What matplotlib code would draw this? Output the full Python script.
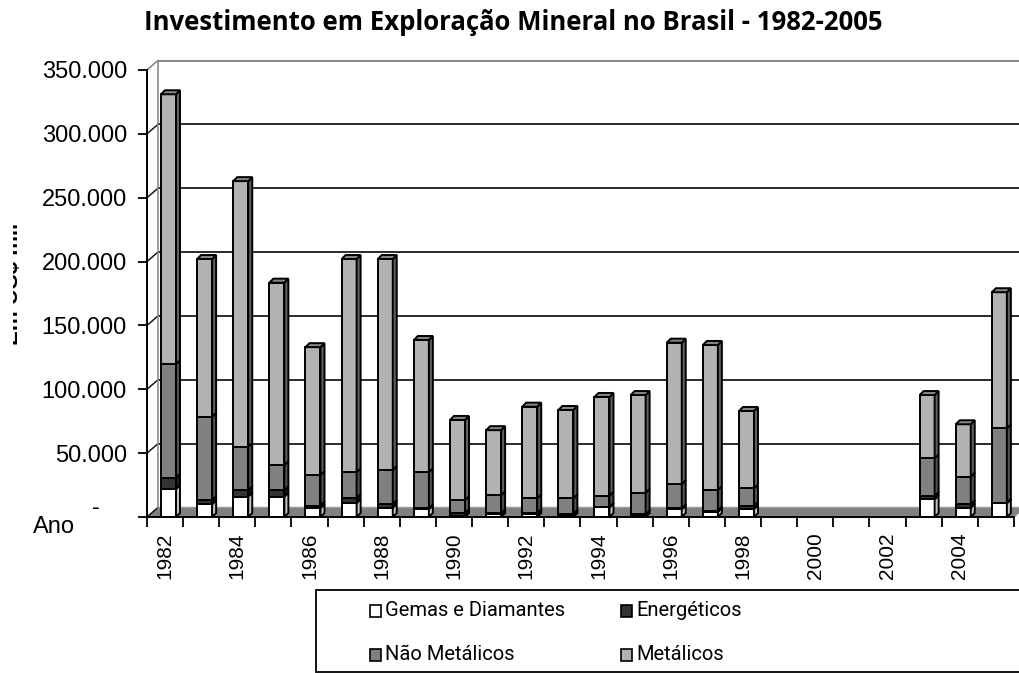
"""
Investimento em exploracao mineral no Brasil, 1982-2005.
Colunas empilhadas com efeito 3D (estilo planilha).
"""
import matplotlib
matplotlib.use("Agg")
import matplotlib.pyplot as plt
from matplotlib.patches import Polygon, Rectangle
from matplotlib.ticker import FixedLocator, FuncFormatter
from matplotlib.transforms import Bbox

# Dados em US$ mil
anos = list(range(1982, 2006))
gemas = [21900, 10000, 16000, 16000, 7000, 11000, 7300, 6000, 1000, 2000,
         2000, 1000, 7500, 500, 6000, 4000, 6200, 0, 0, 0, 0, 13800, 7300, 10700]
energeticos = [8900, 3300, 5000, 5000, 1900, 4000, 2700, 800, 2000, 1000,
               1000, 1500, 500, 1500, 800, 1000, 2700, 0, 0, 0, 0, 2600, 2700, 500]
nao_metalicos = [88800, 65200, 34000, 19700, 24100, 20000, 26800, 28200, 10300, 14000,
                 11600, 12100, 8700, 17000, 19000, 16000, 13500, 0, 0, 0, 0, 29600, 21600, 58200]
metalicos = [211400, 123500, 208000, 142800, 100000, 167000, 165200, 103600, 62700, 51000,
             71800, 69200, 77300, 76500, 110700, 113700, 60600, 0, 0, 0, 0, 49500, 41000, 106600]

series = ["Gemas e Diamantes", "Energéticos", "Não Metálicos", "Metálicos"]
valores = [gemas, energeticos, nao_metalicos, metalicos]
cores = ["#ffffff", "#333333", "#808080", "#b2b2b2"]
cores_lado = ["#c4c4c4", "#1a1a1a", "#505050", "#606060"]
cores_topo = ["#e6e6e6", "#262626", "#6a6a6a", "#858585"]
yticks = [0, 50000, 100000, 150000, 200000, 250000, 300000, 350000]

W, H = 1020, 673
fig = plt.figure(figsize=(W / 100, H / 100), dpi=100)
fig.patch.set_facecolor("white")

def fx(x):
    return x / W

def fy(y):
    return 1 - y / H

# area frontal do grafico em pixels: x 147..1014, y 70..517
ax = fig.add_axes([fx(147), fy(517), 867 / W, 447 / H])
n = len(anos)
ax.set_xlim(0, n)
ax.set_ylim(0, 350000)
ax.set_facecolor("none")

px_x = n / 867.0
px_y = 350000 / 447.0
# profundidade das paredes e das colunas
dxw, dyw = 11 * px_x, 9.5 * px_y
ddx, ddy = 4 * px_x, 4 * px_y

# piso
piso = Polygon([(0, 0), (n, 0), (n + dxw, dyw), (dxw, dyw)], closed=True,
               facecolor="#808080", edgecolor="#9a9a9a", lw=1, zorder=1, clip_on=False)
ax.add_patch(piso)

# parede do fundo e lateral
for v in yticks:
    cor = "#808080" if v in (0, 350000) else "#1a1a1a"
    if v > 0:
        ax.plot([dxw, n + dxw], [v + dyw, v + dyw], color=cor, lw=1.3,
                clip_on=False, zorder=1.5)
    ax.plot([0, dxw], [v, v + dyw], color="#808080" if v == 350000 else "#1a1a1a",
            lw=1.1, clip_on=False, zorder=1.5)
ax.plot([dxw, dxw], [dyw, 350000 + dyw], color="#8c8c8c", lw=1.2, clip_on=False, zorder=1.5)

# colunas empilhadas
x_ini = 14 * px_x
larg = 15 * px_x
lw_barra = 1.4
for i in range(n):
    base = 0
    total = sum(s[i] for s in valores)
    if total == 0:
        continue
    for k, s in enumerate(valores):
        h = s[i]
        if h <= 0:
            continue
        x0 = i + x_ini
        ax.add_patch(Rectangle((x0, base), larg, h, facecolor=cores[k],
                               edgecolor="black", lw=lw_barra, zorder=3, clip_on=False))
        ax.add_patch(Polygon([(x0 + larg, base), (x0 + larg + ddx, base + ddy),
                              (x0 + larg + ddx, base + h + ddy), (x0 + larg, base + h)],
                             closed=True, facecolor=cores_lado[k], edgecolor="black",
                             lw=lw_barra, zorder=3, clip_on=False))
        base += h
    k_topo = max(k for k, s in enumerate(valores) if s[i] > 0)
    x0 = i + x_ini
    ax.add_patch(Polygon([(x0, base), (x0 + larg, base), (x0 + larg + ddx, base + ddy),
                          (x0 + ddx, base + ddy)], closed=True,
                         facecolor=cores_topo[k_topo], edgecolor="black",
                         lw=lw_barra, zorder=3, clip_on=False))

# eixos
for lado in ("top", "right"):
    ax.spines[lado].set_visible(False)
for lado in ("left", "bottom"):
    ax.spines[lado].set_color("black")
    ax.spines[lado].set_linewidth(1.4)
    ax.spines[lado].set_zorder(4)

fonte = ["Liberation Sans", "DejaVu Sans"]
ax.yaxis.set_major_locator(FixedLocator(yticks))
ax.yaxis.set_major_formatter(FuncFormatter(
    lambda v, p: "" if v == 0 else f"{v:,.0f}".replace(",", ".")))
ax.tick_params(axis="y", direction="out", length=6.5, width=1.3, pad=8,
               labelsize=17, colors="black")
for lab in ax.get_yticklabels():
    lab.set_family(fonte)
# zero no formato contabil
ax.text(-47 * px_x, -2 * px_y, "-", fontsize=17, family=fonte, ha="right", va="bottom")

ax.set_xticks(range(n + 1))
ax.set_xticklabels([])
ax.tick_params(axis="x", which="major", direction="out", length=7, width=1.3)
pos_rot = [i + 0.5 for i in range(0, n, 2)]
ax.set_xticks(pos_rot, minor=True)
ax.set_xticklabels([str(anos[i]) for i in range(0, n, 2)], minor=True,
                   rotation=90, fontsize=15, family=fonte)
ax.tick_params(axis="x", which="minor", length=0, pad=11)

# textos
fig.text(fx(513), fy(23), "Investimento em Exploração Mineral no Brasil - 1982-2005",
         ha="center", va="center", fontsize=18.5, fontweight="bold",
         family=["Open Sans", "DejaVu Sans"])
fig.text(fx(33), fy(527), "Ano", ha="left", va="center", fontsize=17, family=fonte)
rot = fig.text(fx(23), fy(284), "Em US$ mil", rotation=90, ha="right", va="center",
               fontsize=16, fontweight="bold", family=fonte)
rot.set_clip_box(Bbox.from_extents(13, 0, 200, H))
rot.set_clip_on(True)

# legenda
fig.add_artist(Rectangle((fx(316), fy(672)), fx(720), 82 / H, transform=fig.transFigure,
                         facecolor="white", edgecolor="black", lw=1.3))
fonte_leg = ["Roboto", "DejaVu Sans"]
posicoes = [(370, 611), (621, 611), (370, 655), (621, 655)]
for nome, cor, (px, py) in zip(series, cores, posicoes):
    fig.add_artist(Rectangle((fx(px), fy(py + 6)), 11 / W, 12 / H,
                             transform=fig.transFigure, facecolor=cor,
                             edgecolor="black", lw=1.2))
    fig.text(fx(px + 15), fy(py), nome, ha="left", va="center", fontsize=14.5,
             family=fonte_leg)

fig.savefig("out.png", dpi=100)
